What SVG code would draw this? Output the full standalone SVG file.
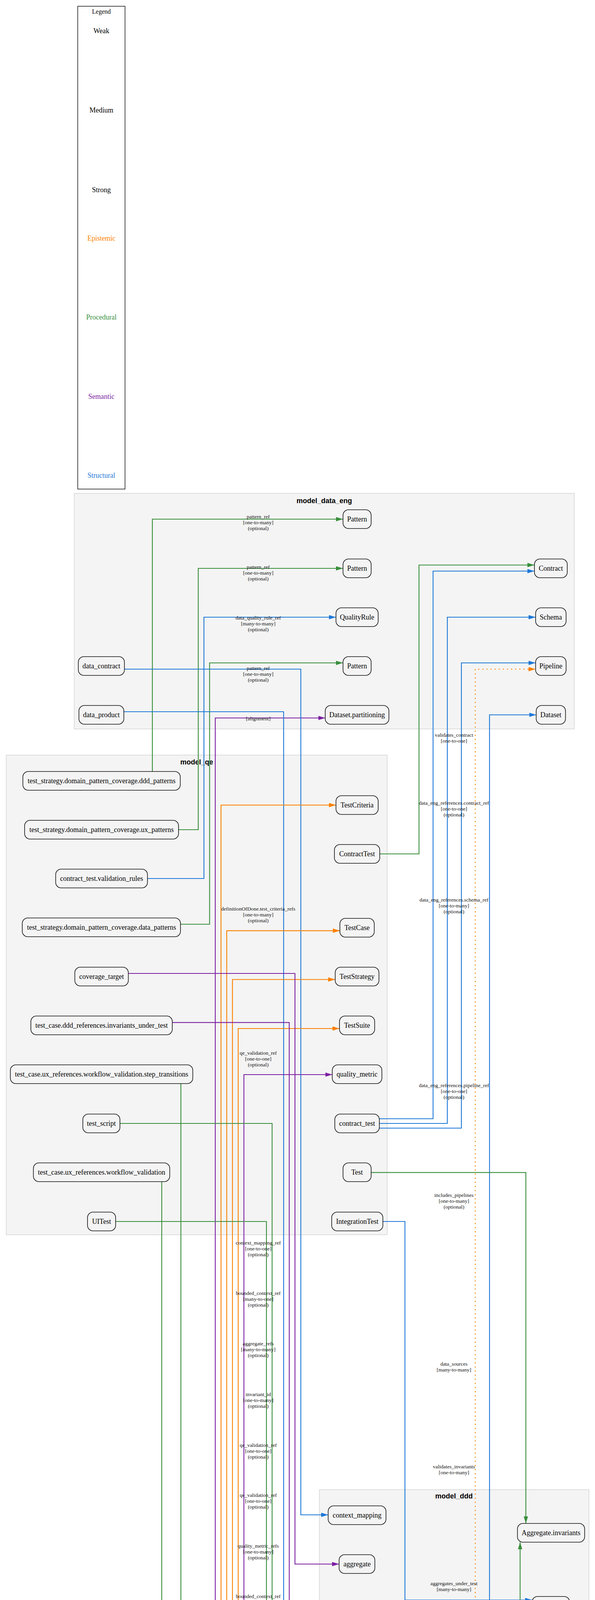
<svg xmlns="http://www.w3.org/2000/svg" width="1523" height="6297" viewBox="0 0 1523 6297">
<style>
.bg{fill:#ffffff}
.cluster rect{fill:#f4f4f4;stroke:#d4d4d4;stroke-width:1.5}
.ctitle{font-family:"Liberation Sans",Arial,sans-serif;font-weight:bold;font-size:18px;text-anchor:middle;fill:#000}
.node rect{fill:#f4f4f4;stroke:#111;stroke-width:1.6}
.node text{font-family:"Liberation Serif","Times New Roman",serif;font-size:18px;text-anchor:middle;fill:#000}
.lbl{font-family:"Liberation Serif","Times New Roman",serif;font-size:13.5px;text-anchor:middle;fill:#111}
.e{fill:none;stroke-width:2.2}
.g{stroke:#388E3C;marker-end:url(#ag)}
.b{stroke:#1E78D7;marker-end:url(#ab)}
.o{stroke:#FB8000;marker-end:url(#ao)}
.p{stroke:#7B1FA2;marker-end:url(#ap)}
.dot{stroke-dasharray:3 7.5}
.leg{font-family:"Liberation Serif","Times New Roman",serif;font-size:18px;text-anchor:middle}
</style>
<defs>
<marker id="ag" viewBox="0 0 18 11" refX="18" refY="5.5" markerWidth="18" markerHeight="11" markerUnits="userSpaceOnUse" orient="auto"><path d="M0,0 L18,5.5 L0,11 z" fill="#388E3C"/></marker>
<marker id="ab" viewBox="0 0 18 11" refX="18" refY="5.5" markerWidth="18" markerHeight="11" markerUnits="userSpaceOnUse" orient="auto"><path d="M0,0 L18,5.5 L0,11 z" fill="#1E78D7"/></marker>
<marker id="ao" viewBox="0 0 18 11" refX="18" refY="5.5" markerWidth="18" markerHeight="11" markerUnits="userSpaceOnUse" orient="auto"><path d="M0,0 L18,5.5 L0,11 z" fill="#FB8000"/></marker>
<marker id="ap" viewBox="0 0 18 11" refX="18" refY="5.5" markerWidth="18" markerHeight="11" markerUnits="userSpaceOnUse" orient="auto"><path d="M0,0 L18,5.5 L0,11 z" fill="#7B1FA2"/></marker>
</defs>
<rect class="bg" x="0" y="0" width="1523" height="6297"/>

<g id="legend">
<rect x="199" y="16" width="121" height="1236" fill="#fff" stroke="#111" stroke-width="1.5"/>
<text class="leg" x="259.5" y="35" style="font-size:16px">Legend</text>
<text class="leg" x="259.5" y="85" fill="#000">Weak</text>
<text class="leg" x="259.5" y="288" fill="#000">Medium</text>
<text class="leg" x="259.5" y="492" fill="#000">Strong</text>
<text class="leg" x="259.5" y="616" fill="#FB8000">Epistemic</text>
<text class="leg" x="259.5" y="818" fill="#388E3C">Procedural</text>
<text class="leg" x="259.5" y="1021" fill="#7B1FA2">Semantic</text>
<text class="leg" x="259.5" y="1223" fill="#1E78D7">Structural</text>
</g>

<g id="cluster-model_data_eng" class="cluster"><rect x="190" y="1263" width="1280" height="603"/><text class="ctitle" x="830" y="1288">model_data_eng</text></g>
<g id="cluster-model_qe" class="cluster"><rect x="16" y="1933" width="975" height="1228"/><text class="ctitle" x="503.5" y="1956.5">model_qe</text></g>
<g id="cluster-model_ddd" class="cluster"><rect x="817.5" y="3813.5" width="690" height="851"/><text class="ctitle" x="1162" y="3835.5">model_ddd</text></g>
<g id="cluster-model_agile" class="cluster"><rect x="115.5" y="4796" width="847.5" height="601"/><text class="ctitle" x="539" y="4819.5">model_agile</text></g>
<g id="cluster-model_ux" class="cluster"><rect x="174.5" y="5554.5" width="818" height="726.5"/><text class="ctitle" x="583.5" y="5577">model_ux</text></g>

<g id="connectors">
<path class="e g" d="M390,1975 V1329 H878"/>
<path class="e g" d="M457,2124 H507.5 V1455 H878"/>
<path class="e b" d="M377,2249 H522 V1580 H860"/>
<path class="e g" d="M462,2366 H536.5 V1697 H878"/>
<path class="e p" d="M328,5628 H551 V1838 H832.5"/>
<path class="e b" d="M318.5,1713 H770 V3878 H840"/>
<path class="e b" d="M317,1822 H726 V4242 H841"/>
<path class="e g" d="M972,2186 H1072.5 V1446.5 H1368"/>
<path class="e b" d="M971,2864 H1108.5 V1462 H1368"/>
<path class="e b" d="M971,2876 H1145 V1580 H1371"/>
<path class="e b" d="M971,2888 H1181 V1697 H1371"/>
<path class="e o dot" d="M952,4853.5 H1216.5 V1713 H1371"/>
<path class="e b" d="M967,6025 H1253 V1830 H1372.5"/>
<path class="e o" d="M359,4861 H565.7 V2061 H860"/>
<path class="e o" d="M393,4974 H580.3 V2382.6 H870"/>
<path class="e o" d="M393,4986.5 H595 V2507.5 H858"/>
<path class="e o" d="M393,4999 H609.7 V2633 H869"/>
<path class="e p" d="M296,5112 H624.3 V2751 H850.5"/>
<path class="e p" d="M328,2492 H755 V4004 H868"/>
<path class="e p" d="M440.6,2617.6 H740.4 V4129 H871"/>
<path class="e b" d="M323.3,5237 H637.8 V4255 H841"/>
<path class="e p" d="M326,5737 H711.4 V4267 H841"/>
<path class="e p" d="M296,5875 H784.3 V4372 H857"/>
<path class="e p" d="M333.6,5986.4 H799.2 V4388 H857"/>
<path class="e p" d="M332.5,6120 H837 V4529.5"/>
<path class="e p" d="M310,6246 H814 V4630 H873.5"/>
<path class="e g" d="M950,3001.7 H1346 V3900"/>
<path class="e g" d="M981.7,5620 H1331.3 V3948"/>
<path class="e b" d="M979.6,3127 H1036.5 V4096 H1362"/>
<path class="e b" d="M962.2,5870 H1288.7 V4119 H1362"/>
<path class="e o" d="M952,4869 H1386.2 V4654"/>
<path class="e b" d="M950.2,6168 H1434.4 V4654"/>
<path class="e g" d="M463,2774 V5611.7 H846.3"/>
<path class="e g" d="M307,2876 H696.5 V5753 H878.4"/>
<path class="e g" d="M296,3127 H682 V5856 H867"/>
<path class="e g" d="M306.7,5350 H667 V5865 H867"/>
<path class="e g" d="M414,3025 V5885 H867"/>
<path class="e g" d="M306.7,5363 H652.2 V6011 H861.2"/>
<path class="e g" d="M306.7,5374.7 H363 V6168.3 H878.4"/>
</g>

<g id="edge-labels" class="lbl">
<text class="lbl" x="661" y="1326.5"><tspan x="661">pattern_ref</tspan><tspan x="661" dy="15">[one-to-many]</tspan><tspan x="661" dy="15">(optional)</tspan></text>
<text class="lbl" x="661" y="1455.5"><tspan x="661">pattern_ref</tspan><tspan x="661" dy="15">[one-to-many]</tspan><tspan x="661" dy="15">(optional)</tspan></text>
<text class="lbl" x="661" y="1585.5"><tspan x="661">data_quality_rule_ref</tspan><tspan x="661" dy="15">[many-to-many]</tspan><tspan x="661" dy="15">(optional)</tspan></text>
<text class="lbl" x="661" y="1714.5"><tspan x="661">pattern_ref</tspan><tspan x="661" dy="15">[one-to-many]</tspan><tspan x="661" dy="15">(optional)</tspan></text>
<text class="lbl" x="661" y="1843.5">[alignment]</text>
<text class="lbl" x="661" y="2330.5"><tspan x="661">definitionOfDone.test_criteria_refs</tspan><tspan x="661" dy="15">[one-to-many]</tspan><tspan x="661" dy="15">(optional)</tspan></text>
<text class="lbl" x="661" y="2699.5"><tspan x="661">qe_validation_ref</tspan><tspan x="661" dy="15">[one-to-one]</tspan><tspan x="661" dy="15">(optional)</tspan></text>
<text class="lbl" x="661" y="3185.5"><tspan x="661">context_mapping_ref</tspan><tspan x="661" dy="15">[one-to-one]</tspan><tspan x="661" dy="15">(optional)</tspan></text>
<text class="lbl" x="661" y="3314.5"><tspan x="661">bounded_context_ref</tspan><tspan x="661" dy="15">[many-to-one]</tspan><tspan x="661" dy="15">(optional)</tspan></text>
<text class="lbl" x="661" y="3443.5"><tspan x="661">aggregate_refs</tspan><tspan x="661" dy="15">[many-to-many]</tspan><tspan x="661" dy="15">(optional)</tspan></text>
<text class="lbl" x="661" y="3573.5"><tspan x="661">invariant_id</tspan><tspan x="661" dy="15">[one-to-many]</tspan><tspan x="661" dy="15">(optional)</tspan></text>
<text class="lbl" x="661" y="3703.5"><tspan x="661">qe_validation_ref</tspan><tspan x="661" dy="15">[one-to-one]</tspan><tspan x="661" dy="15">(optional)</tspan></text>
<text class="lbl" x="661" y="3831.5"><tspan x="661">qe_validation_ref</tspan><tspan x="661" dy="15">[one-to-one]</tspan><tspan x="661" dy="15">(optional)</tspan></text>
<text class="lbl" x="661" y="3961.5"><tspan x="661">quality_metric_refs</tspan><tspan x="661" dy="15">[one-to-many]</tspan><tspan x="661" dy="15">(optional)</tspan></text>
<text class="lbl" x="661" y="4090.5"><tspan x="661">bounded_context_ref</tspan><tspan x="661" dy="15">[many-to-one]</tspan><tspan x="661" dy="15">(optional)</tspan></text>
<text class="lbl" x="661" y="4219.5"><tspan x="661">bounded_context_ref</tspan><tspan x="661" dy="15">[many-to-one]</tspan><tspan x="661" dy="15">(optional)</tspan></text>
<text class="lbl" x="661" y="4349.5"><tspan x="661">ddd_value_object_refs</tspan><tspan x="661" dy="15">[many-to-many]</tspan><tspan x="661" dy="15">(optional)</tspan></text>
<text class="lbl" x="661" y="4478.5"><tspan x="661">ddd_invariant_refs</tspan><tspan x="661" dy="15">[many-to-many]</tspan><tspan x="661" dy="15">(optional)</tspan></text>
<text class="lbl" x="661" y="4607.5">[alignment]</text>
<text class="lbl" x="661" y="4705.5">[alignment]</text>
<text class="lbl" x="661" y="5419.5">[validation]</text>
<text class="lbl" x="661" y="5519.5"><tspan x="661">page_refs</tspan><tspan x="661" dy="15">[many-to-many]</tspan><tspan x="661" dy="15">(optional)</tspan></text>
<text class="lbl" x="661" y="5649.5"><tspan x="661">workflow_ref</tspan><tspan x="661" dy="15">[one-to-one]</tspan><tspan x="661" dy="15">(optional)</tspan></text>
<text class="lbl" x="661" y="5778.5"><tspan x="661">validates_workflow</tspan><tspan x="661" dy="15">[one-to-one]</tspan></text>
<text class="lbl" x="661" y="5893.5"><tspan x="661">ux_artifact_refs.workflow_refs</tspan><tspan x="661" dy="15">[many-to-many]</tspan><tspan x="661" dy="15">(optional)</tspan></text>
<text class="lbl" x="661" y="6022.5"><tspan x="661">ux_artifact_refs.component_refs</tspan><tspan x="661" dy="15">[many-to-many]</tspan><tspan x="661" dy="15">(optional)</tspan></text>
<text class="lbl" x="661" y="6151.5"><tspan x="661">ux_artifact_refs.page_refs</tspan><tspan x="661" dy="15">[many-to-many]</tspan><tspan x="661" dy="15">(optional)</tspan></text>

<text class="lbl" x="1162" y="1885.5"><tspan x="1162">validates_contract</tspan><tspan x="1162" dy="15">[one-to-one]</tspan></text>
<text class="lbl" x="1162" y="2059.5"><tspan x="1162">data_eng_references.contract_ref</tspan><tspan x="1162" dy="15">[one-to-one]</tspan><tspan x="1162" dy="15">(optional)</tspan></text>
<text class="lbl" x="1162" y="2307.5"><tspan x="1162">data_eng_references.schema_ref</tspan><tspan x="1162" dy="15">[one-to-many]</tspan><tspan x="1162" dy="15">(optional)</tspan></text>
<text class="lbl" x="1162" y="2782.5"><tspan x="1162">data_eng_references.pipeline_ref</tspan><tspan x="1162" dy="15">[one-to-one]</tspan><tspan x="1162" dy="15">(optional)</tspan></text>
<text class="lbl" x="1162" y="3063.5"><tspan x="1162">includes_pipelines</tspan><tspan x="1162" dy="15">[one-to-many]</tspan><tspan x="1162" dy="15">(optional)</tspan></text>
<text class="lbl" x="1162" y="3495.5"><tspan x="1162">data_sources</tspan><tspan x="1162" dy="15">[many-to-many]</tspan></text>
<text class="lbl" x="1162" y="3758.5"><tspan x="1162">validates_invariants</tspan><tspan x="1162" dy="15">[one-to-many]</tspan></text>
<text class="lbl" x="1162" y="4057.5"><tspan x="1162">aggregates_under_test</tspan><tspan x="1162" dy="15">[many-to-many]</tspan></text>
<text class="lbl" x="1162" y="4547.5">[constraint]</text>
<text class="lbl" x="1162" y="4661.5"><tspan x="1162">aggregate_refs</tspan><tspan x="1162" dy="15">[many-to-many]</tspan><tspan x="1162" dy="15">(required)</tspan></text>
<text class="lbl" x="1162" y="4821.5"><tspan x="1162">bounded_context_ref</tspan><tspan x="1162" dy="15">[many-to-one]</tspan><tspan x="1162" dy="15">(required)</tspan></text>
<text class="lbl" x="1162" y="5545.5"><tspan x="1162">bounded_context_ref</tspan><tspan x="1162" dy="15">[many-to-one]</tspan><tspan x="1162" dy="15">(required)</tspan></text>
</g>

<g id="n-data_contract" class="node"><rect x="200.5" y="1681" width="118" height="48" rx="14"/><text x="259.5" y="1711">data_contract</text></g>
<g id="n-data_product" class="node"><rect x="202" y="1806" width="115" height="48" rx="14"/><text x="259.5" y="1836">data_product</text></g>
<g id="n-pattern_1" class="node"><rect x="878" y="1305" width="72" height="48" rx="14"/><text x="914" y="1335">Pattern</text></g>
<g id="n-pattern_2" class="node"><rect x="878" y="1431" width="72" height="48" rx="14"/><text x="914" y="1461">Pattern</text></g>
<g id="n-QualityRule" class="node"><rect x="860" y="1556" width="108" height="48" rx="14"/><text x="914" y="1586">QualityRule</text></g>
<g id="n-pattern_3" class="node"><rect x="878" y="1681" width="72" height="48" rx="14"/><text x="914" y="1711">Pattern</text></g>
<g id="n-Dataset_partitioning" class="node"><rect x="832.5" y="1806" width="163" height="48" rx="14"/><text x="914" y="1836">Dataset.partitioning</text></g>
<g id="n-Contract" class="node"><rect x="1368" y="1431" width="84" height="48" rx="14"/><text x="1410" y="1461">Contract</text></g>
<g id="n-Schema" class="node"><rect x="1371" y="1556" width="78" height="48" rx="14"/><text x="1410" y="1586">Schema</text></g>
<g id="n-Pipeline" class="node"><rect x="1371" y="1681" width="78" height="48" rx="14"/><text x="1410" y="1711">Pipeline</text></g>
<g id="n-Dataset" class="node"><rect x="1372.5" y="1806" width="75" height="48" rx="14"/><text x="1410" y="1836">Dataset</text></g>

<g id="n-ddd_patterns" class="node"><rect x="58.5" y="1975" width="403" height="48" rx="14"/><text x="260" y="2005">test_strategy.domain_pattern_coverage.ddd_patterns</text></g>
<g id="n-ux_patterns" class="node"><rect x="63" y="2100" width="394" height="48" rx="14"/><text x="260" y="2130">test_strategy.domain_pattern_coverage.ux_patterns</text></g>
<g id="n-validation_rules" class="node"><rect x="142.5" y="2225" width="235" height="48" rx="14"/><text x="260" y="2255">contract_test.validation_rules</text></g>
<g id="n-data_patterns" class="node"><rect x="57" y="2350" width="405" height="48" rx="14"/><text x="260" y="2380">test_strategy.domain_pattern_coverage.data_patterns</text></g>
<g id="n-coverage_target" class="node"><rect x="191.5" y="2476" width="137" height="48" rx="14"/><text x="260" y="2506">coverage_target</text></g>
<g id="n-invariants_under_test" class="node"><rect x="79" y="2601" width="362" height="48" rx="14"/><text x="260" y="2631">test_case.ddd_references.invariants_under_test</text></g>
<g id="n-step_transitions" class="node"><rect x="26.5" y="2726" width="467" height="48" rx="14"/><text x="260" y="2756">test_case.ux_references.workflow_validation.step_transitions</text></g>
<g id="n-test_script" class="node"><rect x="212" y="2852" width="95" height="48" rx="14"/><text x="259.5" y="2882">test_script</text></g>
<g id="n-workflow_validation" class="node"><rect x="85.5" y="2977" width="349" height="48" rx="14"/><text x="260" y="3007">test_case.ux_references.workflow_validation</text></g>
<g id="n-UITest" class="node"><rect x="224" y="3103" width="72" height="48" rx="14"/><text x="260" y="3133">UITest</text></g>
<g id="n-TestCriteria" class="node"><rect x="860" y="2037" width="108" height="48" rx="14"/><text x="914" y="2067">TestCriteria</text></g>
<g id="n-ContractTest" class="node"><rect x="856" y="2162" width="116" height="48" rx="14"/><text x="914" y="2192">ContractTest</text></g>
<g id="n-TestCase" class="node"><rect x="870" y="2351" width="88" height="48" rx="14"/><text x="914" y="2381">TestCase</text></g>
<g id="n-TestStrategy" class="node"><rect x="858" y="2476" width="112" height="48" rx="14"/><text x="914" y="2506">TestStrategy</text></g>
<g id="n-TestSuite" class="node"><rect x="869" y="2601" width="90" height="48" rx="14"/><text x="914" y="2631">TestSuite</text></g>
<g id="n-quality_metric" class="node"><rect x="850.5" y="2726" width="127" height="48" rx="14"/><text x="914" y="2756">quality_metric</text></g>
<g id="n-contract_test" class="node"><rect x="857" y="2852" width="114" height="48" rx="14"/><text x="914" y="2882">contract_test</text></g>
<g id="n-Test" class="node"><rect x="878" y="2977" width="72" height="48" rx="14"/><text x="914" y="3007">Test</text></g>
<g id="n-IntegrationTest" class="node"><rect x="849" y="3103" width="131" height="48" rx="14"/><text x="914.5" y="3133">IntegrationTest</text></g>

<g id="n-context_mapping" class="node"><rect x="840" y="3855" width="148" height="48" rx="14"/><text x="914" y="3885">context_mapping</text></g>
<g id="n-aggregate" class="node"><rect x="868" y="3980" width="91.5" height="48" rx="14"/><text x="914" y="4010">aggregate</text></g>
<g id="n-Invariant" class="node"><rect x="871" y="4105.5" width="86" height="48" rx="14"/><text x="914" y="4135.5">Invariant</text></g>
<g id="n-bounded_context" class="node"><rect x="841" y="4231" width="146" height="48" rx="14"/><text x="914" y="4261">bounded_context</text></g>
<g id="n-value_object" class="node"><rect x="857" y="4356" width="114" height="48" rx="14"/><text x="914" y="4386">value_object</text></g>
<g id="n-UbiquitousLanguage" class="node"><rect x="828" y="4481.5" width="172" height="48" rx="14"/><text x="914" y="4511.5">UbiquitousLanguage</text></g>
<g id="n-Domain" class="node"><rect x="873.5" y="4606" width="81" height="48" rx="14"/><text x="914" y="4636">Domain</text></g>
<g id="n-Aggregate_invariants" class="node"><rect x="1324.5" y="3900" width="172" height="48" rx="14"/><text x="1410.5" y="3930">Aggregate.invariants</text></g>
<g id="n-Aggregate" class="node"><rect x="1362" y="4087" width="96" height="48" rx="14"/><text x="1410" y="4117">Aggregate</text></g>
<g id="n-BoundedContext" class="node"><rect x="1338.5" y="4606" width="143.5" height="48" rx="14"/><text x="1410" y="4636">BoundedContext</text></g>

<g id="n-Sprint_definitionOfDone" class="node"><rect x="161" y="4837" width="198" height="48" rx="14"/><text x="260" y="4867">Sprint.definitionOfDone</text></g>
<g id="n-Sprint_definitionOfDone_checklist" class="node"><rect x="126.5" y="4963" width="267" height="48" rx="14"/><text x="260" y="4993">Sprint.definitionOfDone.checklist</text></g>
<g id="n-nfr" class="node"><rect x="224" y="5088" width="72" height="48" rx="14"/><text x="260" y="5118">nfr</text></g>
<g id="n-technical_debt" class="node"><rect x="196.5" y="5213" width="127" height="48" rx="14"/><text x="260" y="5243">technical_debt</text></g>
<g id="n-UserStory" class="node"><rect x="213" y="5339" width="94" height="48" rx="14"/><text x="260" y="5369">UserStory</text></g>
<g id="n-Feature" class="node"><rect x="877" y="4837" width="75" height="48" rx="14"/><text x="914.5" y="4867">Feature</text></g>

<g id="n-Page_pagination" class="node"><rect x="191.5" y="5596" width="136.5" height="48" rx="14"/><text x="260" y="5626">Page.pagination</text></g>
<g id="n-hierarchy_node" class="node"><rect x="193" y="5721.5" width="133" height="48" rx="14"/><text x="259.5" y="5751.5">hierarchy_node</text></g>
<g id="n-facet" class="node"><rect x="224" y="5847" width="72" height="48" rx="14"/><text x="260" y="5877">facet</text></g>
<g id="n-validation_config" class="node"><rect x="186" y="5972" width="148" height="48" rx="14"/><text x="260" y="6002">validation_config</text></g>
<g id="n-Component_label" class="node"><rect x="187.5" y="6097.4" width="145" height="48" rx="14"/><text x="260" y="6127.4">Component.label</text></g>
<g id="n-Navigation" class="node"><rect x="209" y="6222.7" width="101" height="48" rx="14"/><text x="259.5" y="6252.7">Navigation</text></g>
<g id="n-Workflow_steps" class="node"><rect x="846.3" y="5596" width="135.4" height="48" rx="14"/><text x="914" y="5626">Workflow.steps</text></g>
<g id="n-page" class="node"><rect x="878.4" y="5721.5" width="72" height="48" rx="14"/><text x="914.4" y="5751.5">page</text></g>
<g id="n-Workflow" class="node"><rect x="867" y="5847" width="95" height="48" rx="14"/><text x="914.5" y="5877">Workflow</text></g>
<g id="n-Component" class="node"><rect x="861.2" y="6001" width="105.6" height="48" rx="14"/><text x="914" y="6031">Component</text></g>
<g id="n-Page" class="node"><rect x="878.4" y="6144" width="72" height="48" rx="14"/><text x="914.4" y="6174">Page</text></g>
</svg>
